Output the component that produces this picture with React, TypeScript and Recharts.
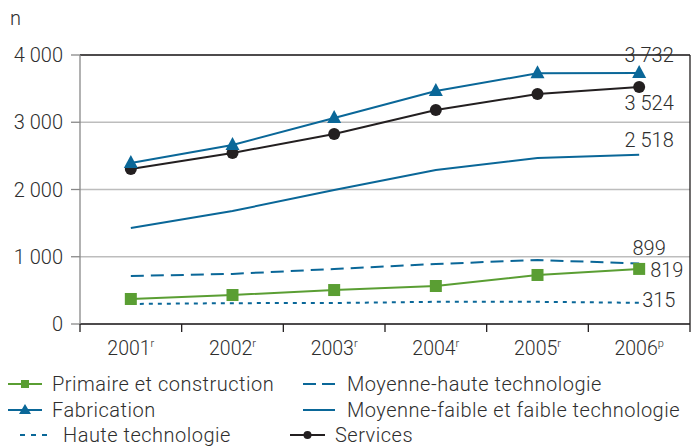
import React from 'react';
import {
  LineChart,
  Line,
  XAxis,
  YAxis,
  CartesianGrid,
  ReferenceLine,
  LabelList,
} from 'recharts';

const years = ['2001', '2002', '2003', '2004', '2005', '2006'];
const yearMarks = ['r', 'r', 'r', 'r', 'r', 'p'];
const yTicks = [0, 1000, 2000, 3000, 4000];

const primaire = [372, 431, 505, 565, 729, 819];
const fabrication = [2394, 2662, 3063, 3465, 3728, 3732];
const haute = [298, 310, 312, 330, 330, 315];
const moyenneHaute = [714, 745, 818, 892, 952, 899];
const moyenneFaible = [1428, 1680, 1993, 2290, 2468, 2518];
const services = [2305, 2543, 2825, 3182, 3420, 3524];

const BLUE = '#0a6798';
const GREEN = '#5a9e33';
const BLACK = '#231f20';
const TEXT = '#2e2e2e';
const FONT = 'Roboto, "Liberation Sans", sans-serif';
const WEIGHT = 300;

const data = years.map((y, i) => ({
  x: i + 1,
  primaire: primaire[i],
  fabrication: fabrication[i],
  haute: haute[i],
  moyenneHaute: moyenneHaute[i],
  moyenneFaible: moyenneFaible[i],
  services: services[i],
}));

const fmt = (v: number) =>
  v >= 1000 ? `${Math.floor(v / 1000)} ${String(v % 1000).padStart(3, '0')}` : String(v);

const XTick = (props: any) => {
  const { x, y, payload } = props;
  const v = payload.value;
  if (Number.isInteger(v)) {
    const i = v - 1;
    return (
      <text
        x={x}
        y={y + 31}
        textAnchor="middle"
        fill={TEXT}
        fontSize={19.5}
        fontFamily={FONT}
        fontWeight={WEIGHT}
      >
        <tspan>{years[i]}</tspan>
        <tspan dy={-8} fontSize={11}>{yearMarks[i]}</tspan>
      </text>
    );
  }
  return <line x1={x} x2={x} y1={y} y2={y + 8} stroke={BLACK} strokeWidth={1.3} />;
};

const Square = (props: any) => {
  const { cx, cy } = props;
  return <rect x={cx - 6} y={cy - 6} width={12} height={12} fill={GREEN} />;
};
const Triangle = (props: any) => {
  const { cx, cy } = props;
  return <polygon points={`${cx},${cy - 8} ${cx - 7},${cy + 5} ${cx + 7},${cy + 5}`} fill={BLUE} />;
};
const Circle = (props: any) => {
  const { cx, cy } = props;
  return <circle cx={cx} cy={cy} r={6} fill={BLACK} />;
};

// end value label, only on the last point
const endLabel = (dx: number, dy: number, anchor: string) => (p: any) => {
  if (p.index !== years.length - 1) return null;
  return (
    <text
      x={p.x + dx}
      y={p.y + dy}
      textAnchor={anchor}
      fill={TEXT}
      fontSize={20}
      fontFamily={FONT}
      fontWeight={WEIGHT}
    >
      {fmt(p.value)}
    </text>
  );
};

const legendItems = [
  { name: 'Primaire et construction', color: GREEN, dash: undefined, marker: 'square', left: 8, w: 34, textLeft: 52 },
  { name: 'Moyenne-haute technologie', color: BLUE, dash: '13 6', marker: 'none', left: 303, w: 32, textLeft: 347 },
  { name: 'Fabrication', color: BLUE, dash: undefined, marker: 'triangle', left: 8, w: 34, textLeft: 52 },
  { name: 'Moyenne-faible et faible technologie', color: BLUE, dash: undefined, marker: 'none', left: 303, w: 32, textLeft: 347 },
  { name: 'Haute technologie', color: BLUE, dash: '5 6', marker: 'none', left: 20, w: 27, textLeft: 63 },
  { name: 'Services', color: BLACK, dash: undefined, marker: 'circle', left: 290, w: 35, textLeft: 335 },
];
const legendRowCenters = [384, 410, 435];

const LegendIcon = ({ item }: any) => {
  const w = item.w;
  return (
    <svg width={w} height={14} style={{ position: 'absolute', left: item.left, top: 3 }}>
      <line x1={0} x2={w} y1={7} y2={7} stroke={item.color} strokeWidth={2} strokeDasharray={item.dash} />
      {item.marker === 'square' && <rect x={w / 2 - 4} y={3} width={8} height={8} fill={item.color} />}
      {item.marker === 'triangle' && (
        <polygon points={`${w / 2},1 ${w / 2 - 6},11 ${w / 2 + 6},11`} fill={item.color} />
      )}
      {item.marker === 'circle' && <circle cx={w / 2} cy={7} r={4} fill={item.color} />}
    </svg>
  );
};

export default function App() {
  return (
    <div
      style={{
        position: 'absolute',
        left: 0,
        top: 0,
        width: 693,
        height: 448,
        background: '#fff',
        fontFamily: FONT,
        fontWeight: WEIGHT,
        overflow: 'hidden',
      }}
    >
      <div style={{ position: 'absolute', left: 10, top: 6, fontSize: 20, color: TEXT }}>n</div>
      <LineChart width={693} height={364} data={data} margin={{ top: 55, right: 3, bottom: 0, left: 0 }}>
        <CartesianGrid vertical={false} stroke="#bdbdbd" strokeWidth={1.3} />
        <XAxis
          dataKey="x"
          type="number"
          domain={[0.5, 6.5]}
          ticks={[0.5, 1, 1.5, 2, 2.5, 3, 3.5, 4, 4.5, 5, 5.5, 6, 6.5]}
          interval={0}
          tickLine={false}
          tickSize={0}
          tickMargin={0}
          axisLine={{ stroke: BLACK, strokeWidth: 1.3 }}
          tick={<XTick />}
          height={40}
        />
        <YAxis
          width={80}
          domain={[0, 4000]}
          ticks={yTicks}
          tickFormatter={fmt}
          axisLine={{ stroke: '#888', strokeWidth: 1.3 }}
          tickLine={{ stroke: '#888', strokeWidth: 1.3 }}
          tickSize={9}
          tickMargin={8}
          tick={{ fill: TEXT, fontSize: 20, fontFamily: FONT, fontWeight: WEIGHT }}
        />
        <ReferenceLine y={4000} stroke={BLACK} strokeWidth={1.3} />
        <ReferenceLine x={6.5} stroke={BLACK} strokeWidth={1.3} />

        <Line dataKey="moyenneFaible" stroke={BLUE} strokeWidth={2} dot={false} isAnimationActive={false}>
          <LabelList dataKey="moyenneFaible" content={endLabel(10, -8, 'middle')} />
        </Line>
        <Line
          dataKey="moyenneHaute"
          stroke={BLUE}
          strokeWidth={2}
          strokeDasharray="13 7"
          dot={false}
          isAnimationActive={false}
        >
          <LabelList dataKey="moyenneHaute" content={endLabel(10, -9, 'middle')} />
        </Line>
        <Line
          dataKey="haute"
          stroke={BLUE}
          strokeWidth={2}
          strokeDasharray="4 5"
          dot={false}
          isAnimationActive={false}
        >
          <LabelList dataKey="haute" content={endLabel(3, 4, 'start')} />
        </Line>
        <Line dataKey="primaire" stroke={GREEN} strokeWidth={2} dot={<Square />} isAnimationActive={false}>
          <LabelList dataKey="primaire" content={endLabel(11, 8, 'start')} />
        </Line>
        <Line dataKey="services" stroke={BLACK} strokeWidth={2} dot={<Circle />} isAnimationActive={false}>
          <LabelList dataKey="services" content={endLabel(10, 23, 'middle')} />
        </Line>
        <Line dataKey="fabrication" stroke={BLUE} strokeWidth={2} dot={<Triangle />} isAnimationActive={false}>
          <LabelList dataKey="fabrication" content={endLabel(10, -11, 'middle')} />
        </Line>
      </LineChart>
      {legendItems.map((item, i) => (
        <div
          key={item.name}
          style={{
            position: 'absolute',
            left: 0,
            top: legendRowCenters[Math.floor(i / 2)] - 10,
            height: 20,
            width: 693,
          }}
        >
          <LegendIcon item={item} />
          <span
            style={{
              position: 'absolute',
              left: item.textLeft,
              top: 0,
              fontSize: 20,
              letterSpacing: 0.5,
              lineHeight: '20px',
              color: TEXT,
              whiteSpace: 'nowrap',
            }}
          >
            {item.name}
          </span>
        </div>
      ))}
    </div>
  );
}
